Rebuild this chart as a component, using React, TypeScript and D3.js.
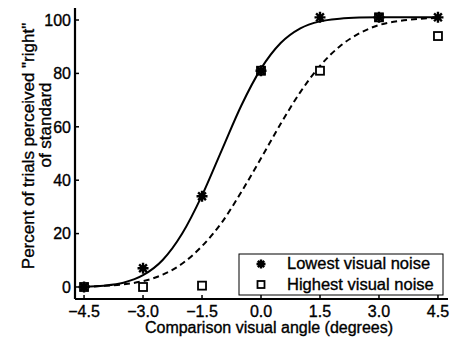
import React from "react";
import * as d3 from "d3";

const angles = [-4.5, -3.0, -1.5, 0.0, 1.5, 3.0, 4.5];
const lowestNoise = [0, 7, 34, 81, 101, 101, 101];
const highestNoise = [0, 0, 0.5, 81, 81, 101, 94];

const curveX = [-4.5, -4.0, -3.5, -3.0, -2.5, -2.0, -1.5, -1.0, -0.5, 0.0, 0.5, 1.0, 1.5, 2.0, 2.5, 3.0, 3.5, 4.0, 4.5];
const lowestFit = [0.1, 0.5, 1.6, 4.4, 10.1, 20.1, 34.3, 51.2, 68, 81.8, 91.4, 96.9, 99.5, 100.5, 100.9, 101, 101, 101, 101];
const highestFit = [0.1, 0.4, 1.0, 2.2, 4.6, 8.8, 15.3, 24.1, 35.6, 48.2, 61.1, 73.0, 82.8, 90.1, 95.0, 98.1, 99.6, 100.4, 100.8];

const xTicks = [-4.5, -3.0, -1.5, 0.0, 1.5, 3.0, 4.5];
const yTicks = [0, 20, 40, 60, 80, 100];
const legendLabels = ["Lowest visual noise", "Highest visual noise"];

const W = 455;
const H = 339;
const FONT = "'Liberation Sans', Arial, Helvetica, sans-serif";

export default function App() {
  const x = d3.scaleLinear().domain([-4.73, 4.755]).range([75, 448]);
  const y = d3.scaleLinear().domain([-4.5, 104.5]).range([299, 8]);

  const line = d3
    .line<number>()
    .x((_, i) => x(curveX[i]))
    .y((d) => y(d))
    .curve(d3.curveMonotoneX);

  const asterisk = (cx: number, cy: number, r: number) => {
    const d = r * 0.7071;
    return `M${cx - r},${cy}L${cx + r},${cy}M${cx},${cy - r}L${cx},${cy + r}M${cx - d},${cy - d}L${cx + d},${cy + d}M${cx - d},${cy + d}L${cx + d},${cy - d}`;
  };

  const x0 = x.range()[0];
  const yb = y.range()[0];
  const ts = { stroke: "#000", strokeWidth: 0.35 } as const;

  return (
    <svg width={W} height={H} style={{ position: "absolute", left: 0, top: 0, background: "#fff" }} fontFamily={FONT}>
      <rect x={0} y={0} width={W} height={H} fill="#fff" />
      <path d={line(highestFit) || ""} fill="none" stroke="#000" strokeWidth={2} strokeDasharray="6,4" />
      <path d={line(lowestFit) || ""} fill="none" stroke="#000" strokeWidth={2} />
      {angles.map((a, i) => (
        <rect key={"s" + i} x={x(a) - 4} y={y(highestNoise[i]) - 4} width={8} height={8} fill="#fff" stroke="#000" strokeWidth={1.8} />
      ))}
      {angles.map((a, i) => (
        <path key={"a" + i} d={asterisk(x(a), y(lowestNoise[i]), 5.5)} stroke="#000" strokeWidth={2.4} fill="none" />
      ))}
      <line x1={x0} y1={yb} x2={x0} y2={8} stroke="#000" strokeWidth={2.2} />
      <line x1={x0} y1={yb} x2={448} y2={yb} stroke="#000" strokeWidth={2.2} />
      {xTicks.map((t) => (
        <g key={"xt" + t}>
          <line x1={x(t)} x2={x(t)} y1={yb} y2={yb - 4} stroke="#000" strokeWidth={1.5} />
          <text x={x(t)} y={316.5} textAnchor="middle" fontSize={16} {...ts}>
            {t < 0 ? "\u2212" + Math.abs(t).toFixed(1) : t.toFixed(1)}
          </text>
        </g>
      ))}
      {yTicks.map((t) => (
        <g key={"yt" + t}>
          <line x1={x0} x2={x0 + 4} y1={y(t)} y2={y(t)} stroke="#000" strokeWidth={1.5} />
          <text x={71} y={y(t) + 5.8} textAnchor="end" fontSize={16} {...ts}>
            {t}
          </text>
        </g>
      ))}
      <text x={269} y={333} textAnchor="middle" fontSize={16} {...ts}>
        Comparison visual angle (degrees)
      </text>
      <text transform="translate(34,146) rotate(-90)" textAnchor="middle" fontSize={17} {...ts}>
        Percent of trials perceived "right"
      </text>
      <text transform="translate(51,125) rotate(-90)" textAnchor="middle" fontSize={17} {...ts}>
        of standard
      </text>
      <rect x={239} y={254} width={204} height={41} fill="#fff" stroke="#000" strokeWidth={1} />
      <path d={asterisk(261, 264, 4.5)} stroke="#000" strokeWidth={2.4} fill="none" />
      <rect x={257.5} y={281} width={7} height={7} fill="#fff" stroke="#000" strokeWidth={1.8} />
      <text x={287} y={269} fontSize={16.5} {...ts}>
        {legendLabels[0]}
      </text>
      <text x={287} y={289.5} fontSize={16.5} {...ts}>
        {legendLabels[1]}
      </text>
    </svg>
  );
}
